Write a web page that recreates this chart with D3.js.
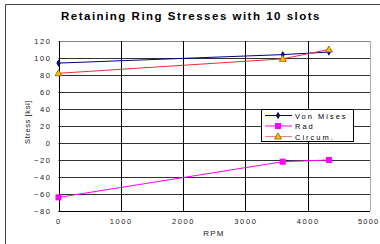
<!DOCTYPE html>
<html><head><meta charset="utf-8">
<script src="https://cdn.jsdelivr.net/npm/d3@7"></script>
<style>body{margin:0;background:#fff;}svg{display:block;font-family:"Liberation Sans",Arial,sans-serif;}</style>
</head><body>
<svg id="c" width="380" height="244"></svg>
<script>
const rpm = [0, 3600, 4340];
const vonMises = [94, 104, 107];
const radial = [-64, -22, -20];
const circum = [82, 99, 110];
const xTicks = [0, 1000, 2000, 3000, 4000, 5000];
const yTicks = [120, 100, 80, 60, 40, 20, 0, -20, -40, -60, -80];
const seriesNames = ["Von Mises", "Rad", "Circum."];

const svg = d3.select("#c");
const x = d3.scaleLinear().domain([0, 5000]).range([58.5, 370]);
const y = d3.scaleLinear().domain([-80, 120]).range([211, 41]);

// outer frame
svg.append("path").attr("d", "M5.5,244 V4.5 H380").attr("fill", "none").attr("stroke", "#444").attr("stroke-width", 1);

// title
svg.append("text").attr("x", 191).attr("y", 20).attr("text-anchor", "middle")
  .attr("font-size", 11.5).attr("font-weight", "bold").attr("fill", "#000")
  .attr("letter-spacing", 1.5)
  .text("Retaining Ring Stresses with 10 slots");

// gridlines
const g = svg.append("g");
g.selectAll("line.h").data(yTicks).join("line")
  .attr("x1", x(0)).attr("x2", x(5000))
  .attr("y1", d => Math.round(y(d)) + 0.5).attr("y2", d => Math.round(y(d)) + 0.5)
  .attr("stroke", d => d === 120 ? "#888" : "#333").attr("stroke-width", 1);
g.selectAll("line.v").data(xTicks).join("line")
  .attr("x1", d => Math.round(x(d)) + 0.5).attr("x2", d => Math.round(x(d)) + 0.5)
  .attr("y1", y(120)).attr("y2", y(-80))
  .attr("stroke", d => d === 5000 ? "#aaa" : "#000").attr("stroke-width", 1);
// axes lines
g.append("line").attr("x1", Math.round(x(0)) + 0.5).attr("x2", Math.round(x(0)) + 0.5)
  .attr("y1", y(120)).attr("y2", y(-80)).attr("stroke", "#000");
g.append("line").attr("x1", x(0)).attr("x2", x(5000))
  .attr("y1", Math.round(y(-80)) + 0.5).attr("y2", Math.round(y(-80)) + 0.5).attr("stroke", "#000");

// axis labels via d3 axes
const yAxis = svg.append("g").attr("transform", `translate(${x(0) - 7},0)`)
  .call(d3.axisLeft(y).tickValues(yTicks).tickSize(0).tickPadding(0));
yAxis.select(".domain").remove();
yAxis.selectAll("text").attr("font-size", 7.5).attr("fill", "#222").attr("letter-spacing", 1.6)
  .attr("font-family", "'Liberation Sans',Arial,sans-serif")
  .text(d => d < 0 ? "\u2212" + Math.abs(d) : d);
const xAxis = svg.append("g").attr("transform", `translate(0,${y(-80)})`)
  .call(d3.axisBottom(x).tickValues(xTicks).tickSize(0).tickPadding(8).tickFormat(d3.format("d")));
xAxis.select(".domain").remove();
xAxis.selectAll("text").attr("font-size", 7.5).attr("fill", "#222").attr("letter-spacing", 1.6)
  .attr("font-family", "'Liberation Sans',Arial,sans-serif");
// keep the last label inside the window
xAxis.selectAll(".tick").filter(d => d === 5000).select("text")
  .attr("text-anchor", "end").attr("letter-spacing", 1.2).attr("dx", 9);

svg.append("text").attr("x", 214).attr("y", 236).attr("text-anchor", "middle")
  .attr("font-size", 8).attr("letter-spacing", 1.2).attr("fill", "#222").text("RPM");
svg.append("text").attr("transform", "translate(30,122) rotate(-90)").attr("text-anchor", "middle")
  .attr("font-size", 7.5).attr("letter-spacing", 0.6).attr("fill", "#222").text("Stress [ksi]");

const series = [
  {name: seriesNames[0], vals: vonMises, color: "#000080", marker: "diamond"},
  {name: seriesNames[1], vals: radial, color: "#ff00ff", marker: "square"},
  {name: seriesNames[2], vals: circum, color: "#e83030", marker: "triangle"}
];
const line = d3.line().x(d => x(d[0])).y(d => y(d[1]));

function drawMarker(sel, s, cx, cy) {
  if (s.marker === "diamond") {
    sel.append("path").attr("d", d3.symbol(d3.symbolDiamond, 16)()).attr("transform", `translate(${cx},${cy})`)
      .attr("fill", s.color);
  } else if (s.marker === "square") {
    sel.append("rect").attr("x", cx - 3).attr("y", cy - 3).attr("width", 6).attr("height", 6).attr("fill", s.color);
  } else {
    sel.append("path").attr("d", `M${cx},${cy - 3.5}L${cx + 3.5},${cy + 2.5}L${cx - 3.5},${cy + 2.5}Z`)
      .attr("fill", "#ffc000").attr("stroke", "#806000").attr("stroke-width", 0.8);
  }
}

series.forEach(s => {
  const pts = rpm.map((r, i) => [r, s.vals[i]]);
  svg.append("path").attr("d", line(pts)).attr("fill", "none").attr("stroke", s.color).attr("stroke-width", 1);
});
series.forEach(s => {
  const gm = svg.append("g");
  rpm.forEach((r, i) => drawMarker(gm, s, x(r), y(s.vals[i])));
});

// legend
const lg = svg.append("g");
lg.append("rect").attr("x", 261.5).attr("y", 109.5).attr("width", 92).attr("height", 32)
  .attr("fill", "#fff").attr("stroke", "#000").attr("stroke-width", 1);
series.forEach((s, i) => {
  const ly = 115.5 + i * 10.5;
  lg.append("line").attr("x1", 265).attr("x2", 292).attr("y1", ly).attr("y2", ly)
    .attr("stroke", i === 2 ? "#f08080" : s.color).attr("stroke-width", 1);
  drawMarker(lg, s, 278, ly);
  lg.append("text").attr("x", 295).attr("y", ly + 3).attr("font-size", 7.5).attr("fill", "#000")
    .attr("letter-spacing", 2).text(s.name);
});
</script>
</body></html>
